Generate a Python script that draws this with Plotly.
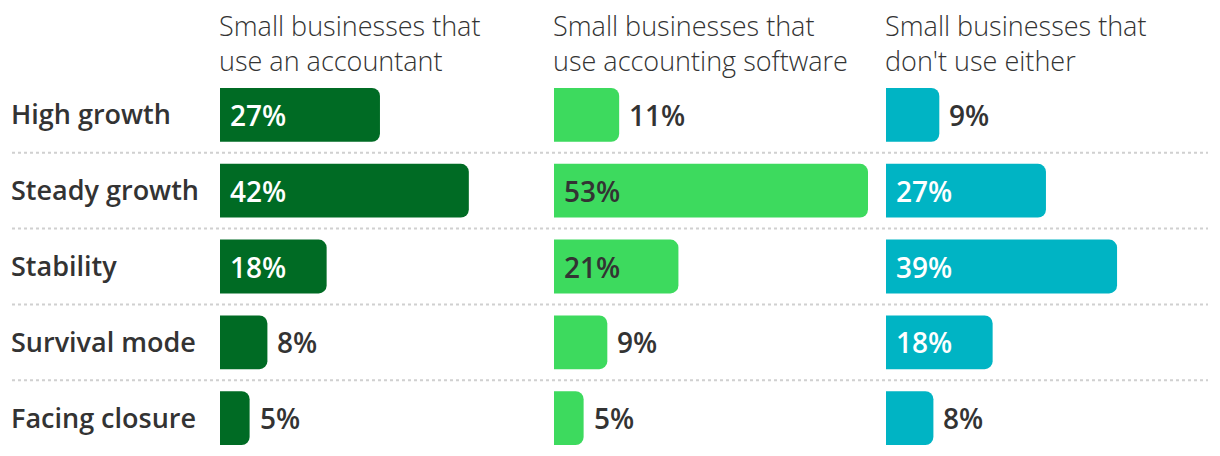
import plotly.graph_objects as go

categories = ["High growth", "Steady growth", "Stability", "Survival mode", "Facing closure"]
accountant = [27, 42, 18, 8, 5]
software = [11, 53, 21, 9, 5]
neither = [9, 27, 39, 18, 8]
headers = [
    "Small businesses that<br>use an accountant",
    "Small businesses that<br>use accounting software",
    "Small businesses that<br>don't use either",
]
series = [accountant, software, neither]
colors = ["#006B24", "#3DDA5E", "#00B4C4"]
inside_text_colors = ["#FFFFFF", "#333333", "#FFFFFF"]

W, H = 1220, 456
FONT = "Open Sans"
TEXT = "#333333"
domains_px = [(220, 534), (554, 868), (886, 1200)]
XMAX = 53

fig = go.Figure()
annotations = []
layout_axes = {}
for i, (vals, col, itc, hdr, (x0, x1)) in enumerate(zip(series, colors, inside_text_colors, headers, domains_px)):
    xa = "x" if i == 0 else f"x{i+1}"
    xa_name = "xaxis" if i == 0 else f"xaxis{i+1}"
    fig.add_trace(go.Bar(
        x=vals, y=categories, orientation="h", xaxis=xa, yaxis="y",
        marker=dict(color=col, line=dict(width=0)), hoverinfo="skip", showlegend=False,
    ))
    layout_axes[xa_name] = dict(
        domain=[x0 / W, x1 / W], range=[0, XMAX], showgrid=False, zeroline=False,
        showticklabels=False, showline=False, fixedrange=True,
    )
    for cat, v in zip(categories, vals):
        inside = v >= 15
        annotations.append(dict(
            xref=xa, yref="y", x=0 if inside else v, y=cat, xanchor="left", yanchor="middle",
            xshift=8, showarrow=False, text=f"{v}%",
            font=dict(family=FONT, size=28, color=itc if inside else TEXT, weight=600),
        ))
    annotations.append(dict(
        xref=f"{xa} domain", yref="paper", x=0, y=1, xanchor="left", yanchor="bottom",
        yshift=-4, xshift=-3, showarrow=False, text=hdr, align="left",
        font=dict(family=FONT, size=27, color=TEXT, weight=300),
    ))

for cat in categories:
    annotations.append(dict(
        xref="paper", yref="y", x=12 / W, y=cat, xanchor="left", yanchor="middle",
        xshift=-3, yshift=1, showarrow=False, text=cat,
        font=dict(family=FONT, size=27, color=TEXT, weight=600),
    ))

shapes = []
for k in range(len(categories) - 1):
    shapes.append(dict(
        type="line", xref="paper", yref="y", x0=12 / W, x1=1208 / W, y0=k + 0.5, y1=k + 0.5,
        line=dict(color="#D0D0D0", width=2, dash="dot"), layer="below",
    ))

fig.update_layout(
    width=W, height=H,
    margin=dict(l=0, r=0, t=77, b=0),
    paper_bgcolor="white", plot_bgcolor="white",
    bargap=0.29, barcornerradius=8,
    yaxis=dict(showticklabels=False, showgrid=False, zeroline=False,
               autorange=False, range=[len(categories) - 0.5, -0.5], fixedrange=True),
    annotations=annotations, shapes=shapes,
    **layout_axes,
)

fig.write_html("out.html", config={"displayModeBar": False},
               post_script="document.body.style.margin='0';")
